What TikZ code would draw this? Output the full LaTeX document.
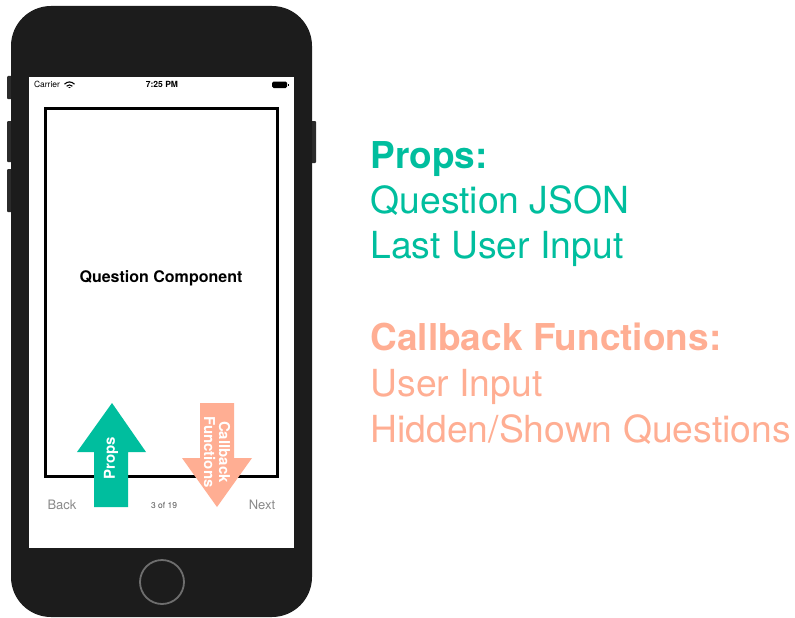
\documentclass[tikz,border=0pt]{standalone}
\usepackage{fontspec}
\setmainfont{TeX Gyre Heros}
\usetikzlibrary{positioning}
\definecolor{phonebody}{HTML}{1C1C1C}
\definecolor{phonekey}{HTML}{2B2B2B}
\definecolor{homering}{HTML}{6E6E6E}
\definecolor{propsgreen}{HTML}{00BE9E}
\definecolor{callsalmon}{HTML}{FFAE93}
\definecolor{navgray}{HTML}{8A8A8A}

\begin{document}
\begin{tikzpicture}[
  x=1pt, y=-1pt,
  every node/.style={inner sep=0pt, outer sep=0pt},
  sidekey/.style={fill=phonekey, rounded corners=1pt},
  bartext/.style={font=\fontsize{8.5}{9}\selectfont},
  navtext/.style={font=\fontsize{13}{13}\selectfont, text=navgray},
  arrowtext/.style={font=\bfseries\fontsize{15}{15}\selectfont, text=white, align=center},
  listtext/.style={font=\fontsize{37.3}{37}\selectfont, anchor=base west},
  listhead/.style={font=\bfseries\fontsize{37}{37}\selectfont, anchor=base west}
]
\useasboundingbox (0,0) rectangle (795,618);

\fill[sidekey] (7,76) rectangle (14,99);
\fill[sidekey] (7,121) rectangle (14,162);
\fill[sidekey] (7,169) rectangle (14,212);
\fill[sidekey] (309,121) rectangle (316,163);
\fill[phonebody, rounded corners=40pt] (11,6) rectangle (312,617);
\fill[white] (29,77) rectangle (294,548);
\draw[homering, line width=1.8pt] (162,582) circle[radius=22];

\node[bartext, anchor=base west] (carrier) at (34,88) {Carrier};
\draw[line width=1.1pt] (64.5,84.2) .. controls (67.5,81.2) and (71.5,81.2) .. (74.5,84.2);
\draw[line width=1.1pt] (66.6,86.2) .. controls (68.4,84.5) and (70.6,84.5) .. (72.4,86.2);
\fill (69.5,88.2) -- (68.2,87) .. controls (69,86.3) and (70,86.3) .. (70.8,87) -- cycle;
\node[bartext, font=\bfseries\fontsize{8.5}{9}\selectfont] (clock) at (162,84.5) {7:25 PM};
\fill[rounded corners=1.5pt] (272,81.5) rectangle (287,88);
\fill (287.5,83.5) rectangle (289,86);

\draw[line width=3pt] (45.5,108.5) rectangle (277.5,476.5);
\node[font=\bfseries\fontsize{16}{16}\selectfont] (question) at (161,278) {Question Component};

\fill[propsgreen] (94,507) -- (94,452) -- (77,452) -- (112,403) -- (146,452) -- (128,452) -- (128,507) -- cycle;
\node[arrowtext, rotate=90] (propsarrow) at (111,458) {Props};
\fill[callsalmon] (200,403) -- (234,403) -- (234,458) -- (252,458) -- (217,507) -- (182,458) -- (200,458) -- cycle;
\node[arrowtext, rotate=-90] (callarrow) at (217,452) {Callback\\Functions};

\node[navtext] (back) at (62,505) {Back};
\node[bartext, text=black!65] (pager) at (164,505) {3 of 19};
\node[navtext] (next) at (262,505) {Next};

\node[listhead, text=propsgreen] (propshead) at (370.5,168) {Props:};
\node[listtext, text=propsgreen, below=45pt of propshead.base west, anchor=base west] (qjson) {Question JSON};
\node[listtext, text=propsgreen, below=45pt of qjson.base west, anchor=base west] (lastinput) {Last User Input};
\node[listhead, text=callsalmon, below=92pt of lastinput.base west, anchor=base west] (callhead) {Callback Functions:};
\node[listtext, text=callsalmon, below=46pt of callhead.base west, anchor=base west] (userinput) {User Input};
\node[listtext, text=callsalmon, below=46pt of userinput.base west, anchor=base west] (hidden) {Hidden/Shown Questions};
\end{tikzpicture}
\end{document}
